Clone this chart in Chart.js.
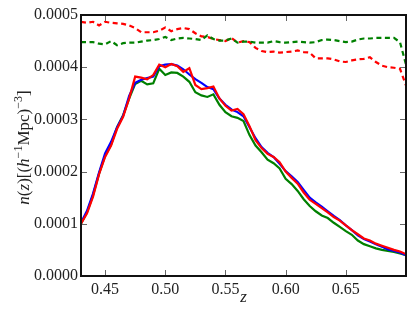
<!DOCTYPE html>
<html>
<head>
<meta charset="utf-8">
<script src="https://cdn.jsdelivr.net/npm/chart.js@4.4.1/dist/chart.umd.min.js"></script>
<style>
html, body { margin: 0; padding: 0; background: #fff; }
</style>
</head>
<body>
<canvas id="chart" width="415" height="312"></canvas>
<script>
// redshift bins
const zValues = [0.430, 0.435, 0.440, 0.445, 0.450, 0.455, 0.460, 0.465, 0.470, 0.475,
                 0.480, 0.485, 0.490, 0.495, 0.500, 0.505, 0.510, 0.515, 0.520, 0.525,
                 0.530, 0.535, 0.540, 0.545, 0.550, 0.555, 0.560, 0.565, 0.570, 0.575,
                 0.580, 0.585, 0.590, 0.595, 0.600, 0.605, 0.610, 0.615, 0.620, 0.625,
                 0.630, 0.635, 0.640, 0.645, 0.650, 0.655, 0.660, 0.665, 0.670, 0.675,
                 0.680, 0.685, 0.690, 0.695, 0.700];

const blueSolid = [1.02e-4, 1.25e-4, 1.58e-4, 1.98e-4, 2.35e-4, 2.57e-4, 2.85e-4, 3.07e-4, 3.45e-4, 3.70e-4,
                   3.76e-4, 3.79e-4, 3.82e-4, 4.02e-4, 4.05e-4, 4.06e-4, 4.03e-4, 3.96e-4, 3.86e-4, 3.77e-4,
                   3.70e-4, 3.62e-4, 3.58e-4, 3.40e-4, 3.28e-4, 3.19e-4, 3.14e-4, 3.06e-4, 2.85e-4, 2.64e-4,
                   2.47e-4, 2.36e-4, 2.28e-4, 2.15e-4, 2.01e-4, 1.91e-4, 1.80e-4, 1.65e-4, 1.50e-4, 1.41e-4,
                   1.33e-4, 1.24e-4, 1.15e-4, 1.07e-4, 0.97e-4, 0.88e-4, 0.78e-4, 0.71e-4, 0.66e-4, 0.61e-4,
                   0.56e-4, 0.51e-4, 0.48e-4, 0.45e-4, 0.40e-4];

const greenSolid = [1.00e-4, 1.22e-4, 1.55e-4, 1.96e-4, 2.30e-4, 2.52e-4, 2.85e-4, 3.08e-4, 3.40e-4, 3.68e-4,
                    3.74e-4, 3.67e-4, 3.69e-4, 3.97e-4, 3.85e-4, 3.90e-4, 3.89e-4, 3.82e-4, 3.72e-4, 3.52e-4,
                    3.46e-4, 3.43e-4, 3.48e-4, 3.28e-4, 3.14e-4, 3.06e-4, 3.03e-4, 2.97e-4, 2.70e-4, 2.50e-4,
                    2.37e-4, 2.23e-4, 2.16e-4, 2.06e-4, 1.86e-4, 1.76e-4, 1.63e-4, 1.47e-4, 1.34e-4, 1.24e-4,
                    1.16e-4, 1.11e-4, 1.02e-4, 0.94e-4, 0.86e-4, 0.79e-4, 0.68e-4, 0.61e-4, 0.57e-4, 0.53e-4,
                    0.50e-4, 0.48e-4, 0.46e-4, 0.43e-4, 0.40e-4];

const redSolid = [1.00e-4, 1.20e-4, 1.52e-4, 1.95e-4, 2.28e-4, 2.50e-4, 2.82e-4, 3.05e-4, 3.40e-4, 3.82e-4,
                  3.80e-4, 3.77e-4, 3.85e-4, 4.05e-4, 4.00e-4, 4.06e-4, 4.02e-4, 3.91e-4, 3.98e-4, 3.66e-4,
                  3.58e-4, 3.60e-4, 3.63e-4, 3.40e-4, 3.26e-4, 3.17e-4, 3.20e-4, 3.10e-4, 2.87e-4, 2.60e-4,
                  2.45e-4, 2.34e-4, 2.28e-4, 2.18e-4, 2.00e-4, 1.88e-4, 1.77e-4, 1.60e-4, 1.46e-4, 1.38e-4,
                  1.30e-4, 1.22e-4, 1.13e-4, 1.06e-4, 0.97e-4, 0.88e-4, 0.80e-4, 0.72e-4, 0.68e-4, 0.62e-4,
                  0.58e-4, 0.54e-4, 0.50e-4, 0.47e-4, 0.42e-4];

const redDashed = [4.87e-4, 4.85e-4, 4.87e-4, 4.80e-4, 4.87e-4, 4.85e-4, 4.84e-4, 4.83e-4, 4.80e-4, 4.75e-4,
                   4.67e-4, 4.67e-4, 4.67e-4, 4.70e-4, 4.76e-4, 4.69e-4, 4.73e-4, 4.75e-4, 4.73e-4, 4.65e-4,
                   4.59e-4, 4.58e-4, 4.54e-4, 4.52e-4, 4.50e-4, 4.56e-4, 4.47e-4, 4.50e-4, 4.48e-4, 4.37e-4,
                   4.31e-4, 4.29e-4, 4.30e-4, 4.28e-4, 4.29e-4, 4.30e-4, 4.32e-4, 4.29e-4, 4.28e-4, 4.17e-4,
                   4.17e-4, 4.17e-4, 4.15e-4, 4.11e-4, 4.10e-4, 4.13e-4, 4.15e-4, 4.16e-4, 4.19e-4, 4.10e-4,
                   4.03e-4, 4.00e-4, 3.99e-4, 3.97e-4, 3.65e-4];

const greenDashed = [4.48e-4, 4.48e-4, 4.48e-4, 4.45e-4, 4.44e-4, 4.50e-4, 4.42e-4, 4.46e-4, 4.47e-4, 4.47e-4,
                     4.49e-4, 4.51e-4, 4.52e-4, 4.54e-4, 4.58e-4, 4.52e-4, 4.55e-4, 4.56e-4, 4.55e-4, 4.54e-4,
                     4.52e-4, 4.61e-4, 4.54e-4, 4.51e-4, 4.51e-4, 4.55e-4, 4.47e-4, 4.49e-4, 4.49e-4, 4.47e-4,
                     4.47e-4, 4.47e-4, 4.50e-4, 4.48e-4, 4.47e-4, 4.48e-4, 4.49e-4, 4.48e-4, 4.47e-4, 4.48e-4,
                     4.52e-4, 4.53e-4, 4.52e-4, 4.50e-4, 4.48e-4, 4.49e-4, 4.53e-4, 4.55e-4, 4.55e-4, 4.56e-4,
                     4.56e-4, 4.56e-4, 4.56e-4, 4.48e-4, 4.05e-4];

const xTicks = [0.45, 0.50, 0.55, 0.60, 0.65];
const yTicks = [0.0000, 0.0001, 0.0002, 0.0003, 0.0004, 0.0005];

const serif = '"Liberation Serif", "DejaVu Serif", serif';
const textColor = '#222';

function pts(vals) {
    return zValues.map((z, i) => ({ x: z, y: vals[i] }));
}

// lower "order" is drawn on top
function series(vals, color, dashed, order) {
    return {
        data: pts(vals),
        borderColor: color,
        borderWidth: 2.2,
        borderDash: dashed ? [5, 3.5] : [],
        pointRadius: 0,
        tension: 0,
        fill: false,
        order: order
    };
}

// inward ticks on all four sides, the black frame and the axis titles
const framePlugin = {
    id: 'frame',
    afterDatasetsDraw(chart) {
        const { ctx, chartArea: a, scales } = chart;
        ctx.save();
        ctx.strokeStyle = '#666';
        ctx.lineWidth = 1;
        ctx.beginPath();
        xTicks.forEach(v => {
            const px = Math.round(scales.x.getPixelForValue(v)) + 0.5;
            ctx.moveTo(px, a.bottom); ctx.lineTo(px, a.bottom - 6);
            ctx.moveTo(px, a.top); ctx.lineTo(px, a.top + 6);
        });
        yTicks.forEach(v => {
            const py = Math.round(scales.y.getPixelForValue(v)) + 0.5;
            ctx.moveTo(a.left, py); ctx.lineTo(a.left + 6, py);
            ctx.moveTo(a.right, py); ctx.lineTo(a.right - 6, py);
        });
        ctx.stroke();
        ctx.strokeStyle = '#111';
        ctx.lineWidth = 2;
        ctx.strokeRect(a.left, a.top, a.right - a.left, a.bottom - a.top);

        // x title
        ctx.fillStyle = textColor;
        ctx.font = 'italic 17px ' + serif;
        ctx.textAlign = 'center';
        ctx.textBaseline = 'middle';
        ctx.fillText('z', (a.left + a.right) / 2, 298);

        // y title with superscripts
        const parts = [
            { t: 'n', it: true }, { t: '(' }, { t: 'z', it: true }, { t: ')[(' },
            { t: 'h', it: true }, { t: '\u22121', sup: true }, { t: 'Mpc)' },
            { t: '\u22123', sup: true }, { t: ']' }
        ];
        const fontFor = p => (p.it ? 'italic ' : '') + (p.sup ? '12px ' : '17px ') + serif;
        let total = 0;
        parts.forEach(p => { ctx.font = fontFor(p); p.w = ctx.measureText(p.t).width; total += p.w; });
        ctx.translate(23, (a.top + a.bottom) / 2 + 2);
        ctx.rotate(-Math.PI / 2);
        ctx.textAlign = 'left';
        ctx.textBaseline = 'alphabetic';
        let x = -total / 2;
        parts.forEach(p => {
            ctx.font = fontFor(p);
            ctx.fillText(p.t, x, p.sup ? -1 : 6);
            x += p.w;
        });
        ctx.restore();
    }
};

new Chart(document.getElementById('chart'), {
    type: 'line',
    data: {
        datasets: [
            series(greenSolid, '#008000', false, 5),
            series(blueSolid, '#0000ff', false, 4),
            series(redSolid, '#ff0000', false, 3),
            series(redDashed, '#ff0000', true, 2),
            series(greenDashed, '#008000', true, 1)
        ]
    },
    options: {
        responsive: false,
        animation: false,
        devicePixelRatio: 1,
        layout: { padding: { left: 0, top: 15, right: 9, bottom: 0 } },
        plugins: { legend: { display: false }, tooltip: { enabled: false } },
        scales: {
            x: {
                type: 'linear',
                min: 0.43,
                max: 0.70,
                afterFit(s) { s.height = 36; },
                afterBuildTicks(s) { s.ticks = xTicks.map(v => ({ value: v })); },
                grid: { display: false, drawTicks: false },
                border: { display: false },
                ticks: {
                    padding: 4,
                    color: textColor,
                    font: { family: serif, size: 16 },
                    maxRotation: 0,
                    autoSkip: false,
                    callback: v => v.toFixed(2)
                }
            },
            y: {
                type: 'linear',
                min: 0,
                max: 0.0005,
                afterFit(s) { s.width = 81; },
                afterBuildTicks(s) { s.ticks = yTicks.map(v => ({ value: v })); },
                grid: { display: false, drawTicks: false },
                border: { display: false },
                ticks: {
                    padding: 3,
                    color: textColor,
                    font: { family: serif, size: 16 },
                    autoSkip: false,
                    callback: v => v.toFixed(4)
                }
            }
        }
    },
    plugins: [framePlugin]
});
</script>
</body>
</html>
